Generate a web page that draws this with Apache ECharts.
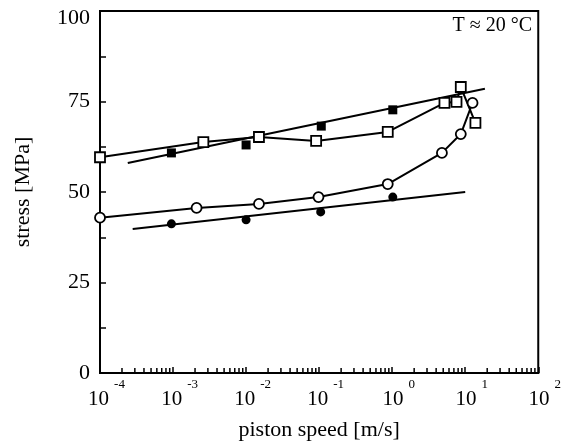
<!DOCTYPE html>
<html>
<head>
<meta charset="utf-8">
<script src="https://cdn.jsdelivr.net/npm/echarts@6/dist/echarts.min.js"></script>
<style>html,body{margin:0;padding:0;background:#fff;}#c{width:564px;height:448px;}</style>
</head>
<body>
<div id="c"></div>
<script>
// piston speed [m/s] and stress [MPa]
var openSqX = [1e-4, 2.6e-3, 1.5e-2, 9.1e-2, 0.87, 5.2, 7.6, 8.7, 13.8];
var openSqY = [59.6, 63.8, 65.2, 64.1, 66.6, 74.6, 74.9, 79.0, 69.1];
var filledSqX = [9.5e-4, 1.0e-2, 0.107, 1.02];
var filledSqY = [60.8, 63.0, 68.2, 72.7];
var sqFitX = [2.4e-4, 18.6];
var sqFitY = [58.0, 78.5];
var openCircX = [1e-4, 2.1e-3, 1.5e-2, 9.8e-2, 0.87, 4.8, 8.7, 12.6];
var openCircY = [42.9, 45.6, 46.7, 48.6, 52.2, 60.8, 66.0, 74.6];
var filledCircX = [9.5e-4, 1.0e-2, 0.105, 1.02];
var filledCircY = [41.2, 42.3, 44.5, 48.6];
var circFitX = [2.8e-4, 10];
var circFitY = [39.8, 50.0];
var yTicks = [0, 25, 50, 75, 100];
var annotation = 'T \u2248 20 \u00B0C';

function pairs(xs, ys) { return xs.map(function (x, i) { return [x, ys[i]]; }); }

// minor tick positions on the log axis (2..9 x 10^n)
var minorTicks = [];
for (var n = -4; n <= 1; n++) {
  for (var k = 2; k <= 9; k++) minorTicks.push([k * Math.pow(10, n), 0]);
}

var FONT = '"Liberation Serif", "DejaVu Serif", serif';
var chart = echarts.init(document.getElementById('c'), null, {renderer: 'canvas'});
chart.setOption({
  backgroundColor: '#fff',
  animation: false,
  grid: {left: 100, right: 23, top: 11, bottom: 75, show: true, borderColor: '#000', borderWidth: 2, backgroundColor: 'transparent'},
  xAxis: {
    type: 'log', logBase: 10, min: 1e-4, max: 100, splitNumber: 6,
    name: 'piston speed [m/s]', nameLocation: 'middle', nameGap: 46,
    nameTextStyle: {fontFamily: FONT, fontSize: 22, color: '#000'},
    axisLine: {lineStyle: {color: '#000', width: 2}},
    axisTick: {inside: true, length: 6, lineStyle: {color: '#000', width: 1.5}},
    splitLine: {show: false},
    axisLabel: {
      margin: 5,
      formatter: function (v) {
        var e = Math.round(Math.log10(v));
        return '{b|10}{e|' + e + '}';
      },
      rich: {
        b: {fontFamily: FONT, fontSize: 21, color: '#000', lineHeight: 21, verticalAlign: 'bottom', padding: [0, 0, 0, 13]},
        e: {fontFamily: FONT, fontSize: 13, color: '#000', lineHeight: 32, verticalAlign: 'top', padding: [0, 0, 0, 5]}
      }
    }
  },
  yAxis: {
    type: 'value', min: 0, max: 100, interval: 25,
    name: 'stress [MPa]', nameLocation: 'middle', nameGap: 66, nameRotate: 90,
    nameTextStyle: {fontFamily: FONT, fontSize: 22, color: '#000'},
    axisLine: {lineStyle: {color: '#000', width: 2}},
    axisTick: {inside: true, length: 6, lineStyle: {color: '#000', width: 1.5}},
    minorTick: {show: true, splitNumber: 2, length: 6, lineStyle: {color: '#000', width: 1.5}},
    splitLine: {show: false},
    axisLabel: {
      margin: 10, fontFamily: FONT, fontSize: 22, color: '#000',
      formatter: function (v) {
        if (yTicks.indexOf(v) < 0) return '';
        return v === 100 ? '{t|100}' : String(v);
      },
      rich: {t: {fontFamily: FONT, fontSize: 22, color: '#000', padding: [14, 0, 0, 0]}}
    }
  },
  graphic: [{
    type: 'text', right: 32, top: 16,
    style: {text: annotation, font: '20px ' + FONT, fill: '#000'}
  }],
  series: [
    {type: 'scatter', data: minorTicks, symbol: 'rect', symbolSize: [1.5, 4], symbolOffset: [0, -3],
     itemStyle: {color: '#000', opacity: 1}, silent: true, z: 1},
    {type: 'line', data: pairs(sqFitX, sqFitY), showSymbol: false, symbol: 'none',
     lineStyle: {color: '#000', width: 2}, z: 2},
    {type: 'line', data: pairs(circFitX, circFitY), showSymbol: false, symbol: 'none',
     lineStyle: {color: '#000', width: 2}, z: 2},
    {type: 'line', data: pairs(openSqX, openSqY), symbol: 'rect', symbolSize: 10, clip: false,
     lineStyle: {color: '#000', width: 2}, itemStyle: {color: '#fff', borderColor: '#000', borderWidth: 1.8}, z: 3},
    {type: 'line', data: pairs(openCircX, openCircY), symbol: 'circle', symbolSize: 10, clip: false,
     lineStyle: {color: '#000', width: 2}, itemStyle: {color: '#fff', borderColor: '#000', borderWidth: 1.8}, z: 3},
    {type: 'scatter', data: pairs(filledSqX, filledSqY), symbol: 'rect', symbolSize: 9,
     itemStyle: {color: '#000', opacity: 1}, z: 4},
    {type: 'scatter', data: pairs(filledCircX, filledCircY), symbol: 'circle', symbolSize: 9,
     itemStyle: {color: '#000', opacity: 1}, z: 4}
  ]
});
</script>
</body>
</html>
